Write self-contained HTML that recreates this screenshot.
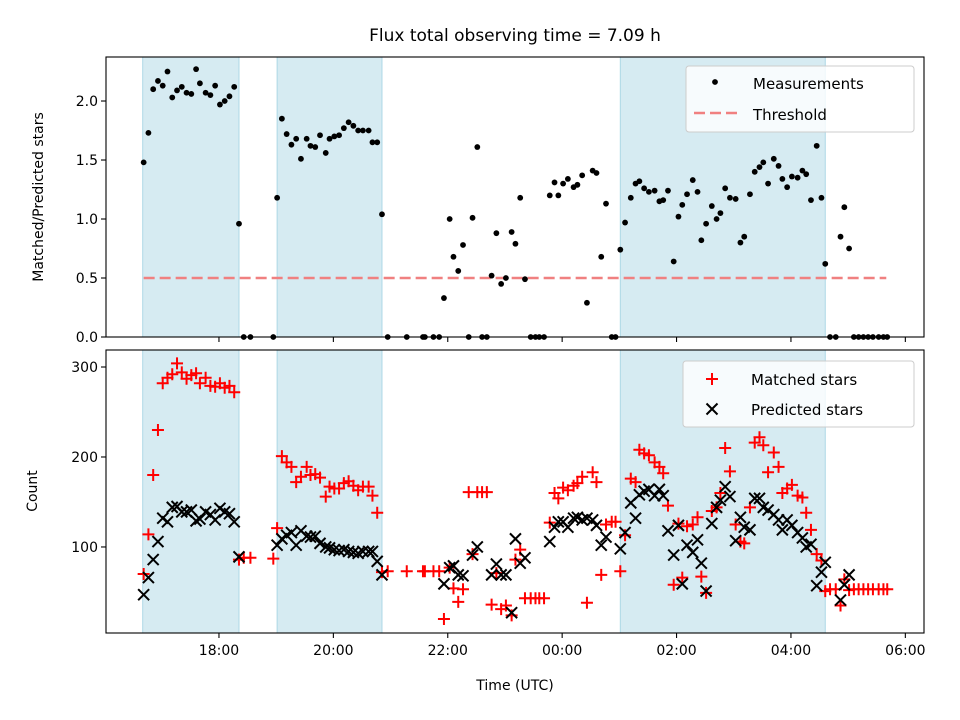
<!DOCTYPE html>
<html><head><meta charset="utf-8"><style>
html,body{margin:0;padding:0;background:#fff;}
svg{display:block;font-family:"DejaVu Sans","Liberation Sans",sans-serif;}
</style></head><body>
<svg id="fig" width="960" height="720" viewBox="0 0 960 720" xmlns="http://www.w3.org/2000/svg">
<text x="515" y="41" text-anchor="middle" font-size="17">Flux total observing time = 7.09 h</text>
<g id="topPanel"></g>
<g id="botPanel"></g>
<text transform="translate(43,197) rotate(-90)" text-anchor="middle" font-size="14">Matched/Predicted stars</text>
<text transform="translate(37,491) rotate(-90)" text-anchor="middle" font-size="14">Count</text>
<text x="515" y="690" text-anchor="middle" font-size="14">Time (UTC)</text>
</svg>
<script>
// minutes after 16:00 UTC
const times = [41,46,51,56,61,66,71,76,81,86,91,96,100,106,111,116,121,126,131,136,141,146,153,177,181,186,191,196,201,206,212,216,221,226,232,236,241,246,251,256,261,266,271,277,281,286,291,297,317,334,336,345,351,356,362,366,371,376,382,386,391,396,401,406,411,416,421,427,431,436,441,447,452,456,461,467,472,476,481,486,492,496,501,506,512,516,521,526,532,536,541,546,552,557,561,566,571,577,582,586,591,597,602,606,611,617,622,626,631,637,642,646,651,656,662,667,671,677,682,687,691,696,702,707,711,716,721,727,732,736,741,747,752,756,761,767,772,776,781,786,791,796,801,806,812,817,821];
const ratio = [1.48,1.73,2.10,2.17,2.13,2.25,2.03,2.09,2.12,2.07,2.06,2.27,2.15,2.07,2.05,2.13,1.97,2.00,2.04,2.12,0.96,0,0,0,1.18,1.85,1.72,1.63,1.68,1.51,1.68,1.62,1.61,1.71,1.56,1.68,1.70,1.71,1.77,1.82,1.79,1.75,1.75,1.75,1.65,1.65,1.04,0,0,0,0,0,0,0.33,1.00,0.68,0.56,0.78,0,1.01,1.61,0,0,0.52,0.88,0.45,0.50,0.89,0.79,1.18,0.49,0,0,0,0,1.20,1.31,1.20,1.30,1.34,1.27,1.29,1.37,0.29,1.41,1.39,0.68,1.13,0,0,0.74,0.97,1.18,1.30,1.32,1.26,1.23,1.24,1.15,1.16,1.24,0.64,1.02,1.12,1.21,1.33,1.23,0.82,0.96,1.11,1.00,1.05,1.26,1.18,1.17,0.80,0.85,1.21,1.40,1.44,1.48,1.30,1.51,1.45,1.34,1.27,1.36,1.35,1.41,1.38,1.16,1.62,1.18,0.62,0,0,0.85,1.10,0.75,0,0,0,0,0,0,0,0];
const matched = [70,114,180,230,282,288,292,304,294,287,291,293,282,288,279,278,282,277,279,272,86,88,88,87,121,201,194,189,172,178,189,180,181,177,156,167,165,165,171,173,168,163,167,167,157,138,72,73,73,73,73,73,73,20,77,54,39,53,161,92,161,161,161,36,71,31,35,24,86,97,43,43,43,43,43,127,160,154,166,163,168,171,178,38,183,172,69,125,128,128,73,113,176,172,208,204,202,194,189,182,146,58,126,66,123,125,133,67,49,140,144,160,210,184,125,106,104,144,216,222,213,183,205,189,160,165,169,157,155,138,119,92,85,51,53,53,35,64,52,53,53,53,53,53,53,53,53];
const predicted = [47,66,86,106,132,128,144,145,139,139,141,129,131,139,136,130,143,139,137,128,89,null,null,null,102,109,113,116,102,118,112,111,112,104,100,99,97,96,97,95,94,93,95,95,95,84,69,null,null,null,null,null,null,59,77,79,69,68,null,91,100,null,null,69,81,69,69,27,109,82,88,null,null,null,null,106,122,128,128,122,132,133,130,132,130,124,102,111,null,null,98,116,149,132,158,162,164,157,164,157,118,91,124,59,102,94,108,82,51,126,144,152,167,156,107,133,122,119,154,154,144,141,136,130,119,130,124,116,110,100,103,57,72,83,null,null,41,58,69,null,null,null,null,null,null,null,null];
const bands = [[40,141],[181,291],[541,756]];
const threshold = 0.5;
const thrRange = [41,820];
const xTickVals = [120,240,360,480,600,720,840];
const xTickLabels = ["18:00","20:00","22:00","00:00","02:00","04:00","06:00"];
const topTicks = [0,0.5,1.0,1.5,2.0];
const topTickLabels = ["0.0","0.5","1.0","1.5","2.0"];
const botTicks = [100,200,300];
const botTickLabels = ["100","200","300"];

const NS="http://www.w3.org/2000/svg";
const L=106,R=924;
const xs=m=>L+(m-1.5)*0.9533;
const TP={top:57,bot:337,min:0,max:2.373};
const BP={top:350,bot:633,min:4.4,max:318.9};
const yT=v=>TP.bot-(v-TP.min)/(TP.max-TP.min)*(TP.bot-TP.top);
const yB=v=>BP.bot-(v-BP.min)/(BP.max-BP.min)*(BP.bot-BP.top);
function mk(parent,tag,attrs){const e=document.createElementNS(NS,tag);for(const k in attrs)e.setAttribute(k,attrs[k]);parent.appendChild(e);return e;}

function panel(g,P,ys,ticks,labels,name,showX){
  mk(g,'rect',{x:L,y:P.top,width:R-L,height:P.bot-P.top,fill:'#fff'});
  bands.forEach((b,i)=>{
    const r=mk(g,'rect',{x:xs(b[0]),y:P.top,width:xs(b[1])-xs(b[0]),height:P.bot-P.top,fill:'#add8e6','fill-opacity':0.5,stroke:'#add8e6','stroke-width':1});
    
    
  });
  ticks.forEach((t,i)=>{
    const y=ys(t);
    mk(g,'line',{x1:L-5,x2:L,y1:y,y2:y,stroke:'#000','stroke-width':1.1});
    const tx=mk(g,'text',{x:L-8,y:y+5,'text-anchor':'end','font-size':14});
    tx.textContent=labels[i];
    
    
  });
  xTickVals.forEach((t,i)=>{
    const x=xs(t);
    mk(g,'line',{x1:x,x2:x,y1:P.bot,y2:P.bot+5,stroke:'#000','stroke-width':1.1});
    if(showX){
      const tx=mk(g,'text',{x:x,y:P.bot+22,'text-anchor':'middle','font-size':14});
      tx.textContent=xTickLabels[i];
      
      
    }
  });
}

const topG=document.getElementById('topPanel'), botG=document.getElementById('botPanel');
panel(topG,TP,yT,topTicks,topTickLabels,'ratio',false);
panel(botG,BP,yB,botTicks,botTickLabels,'count',true);

// threshold
const th=mk(topG,'line',{x1:xs(thrRange[0]),x2:xs(thrRange[1]),y1:yT(threshold),y2:yT(threshold),stroke:'#f08080','stroke-width':2.5,'stroke-dasharray':'11,5'});



// measurements
const mg=mk(topG,'g',{});


times.forEach((t,i)=>{
  const c=mk(mg,'circle',{cx:xs(t),cy:yT(ratio[i]),r:2.9,fill:'#000'});
  
  
});

// clip for bottom
const defs=mk(document.getElementById('fig'),'defs',{});
const cp=mk(defs,'clipPath',{id:'cb'});
mk(cp,'rect',{x:L,y:BP.top,width:R-L,height:BP.bot-BP.top});
const mgr=mk(botG,'g',{'clip-path':'url(#cb)'});


times.forEach((t,i)=>{
  const x=xs(t),y=yB(matched[i]),s=6;
  const p=mk(mgr,'path',{d:`M${x-s},${y}H${x+s}M${x},${y-s}V${y+s}`,stroke:'#ff0000','stroke-width':2,fill:'none'});
  
  
});
const pgr=mk(botG,'g',{'clip-path':'url(#cb)'});


times.forEach((t,i)=>{
  if(predicted[i]===null)return;
  const x=xs(t),y=yB(predicted[i]),s=5.5;
  const p=mk(pgr,'path',{d:`M${x-s},${y-s}L${x+s},${y+s}M${x-s},${y+s}L${x+s},${y-s}`,stroke:'#000','stroke-width':2,fill:'none'});
  
  
});

// frames
[[topG,TP],[botG,BP]].forEach(([g,P])=>{
  mk(g,'rect',{x:L,y:P.top,width:R-L,height:P.bot-P.top,fill:'none',stroke:'#000','stroke-width':1.1});
});

// legends
function legend(g,x,y,w,h,name){
  const r=mk(g,'rect',{x:x,y:y,width:w,height:h,rx:3,fill:'#fff','fill-opacity':0.8,stroke:'#ccc','stroke-width':1});
  
  
}
legend(topG,686,66,228,66,'ratio-legend');
mk(topG,'circle',{cx:715,cy:82,r:2.9,fill:'#000'});
let t1=mk(topG,'text',{x:753,y:89,'font-size':15});t1.textContent='Measurements';


mk(topG,'line',{x1:694,x2:737,y1:113,y2:113,stroke:'#f08080','stroke-width':2.5,'stroke-dasharray':'11,5'});
let t2=mk(topG,'text',{x:753,y:120,'font-size':15});t2.textContent='Threshold';



legend(botG,683,361,231,66,'count-legend');
mk(botG,'path',{d:'M706,379H718M712,373V385',stroke:'#ff0000','stroke-width':2});
let t3=mk(botG,'text',{x:751,y:385,'font-size':15});t3.textContent='Matched stars';


mk(botG,'path',{d:'M706.5,403.5L717.5,414.5M706.5,414.5L717.5,403.5',stroke:'#000','stroke-width':2});
let t4=mk(botG,'text',{x:751,y:415,'font-size':15});t4.textContent='Predicted stars';


</script>
</body></html>
